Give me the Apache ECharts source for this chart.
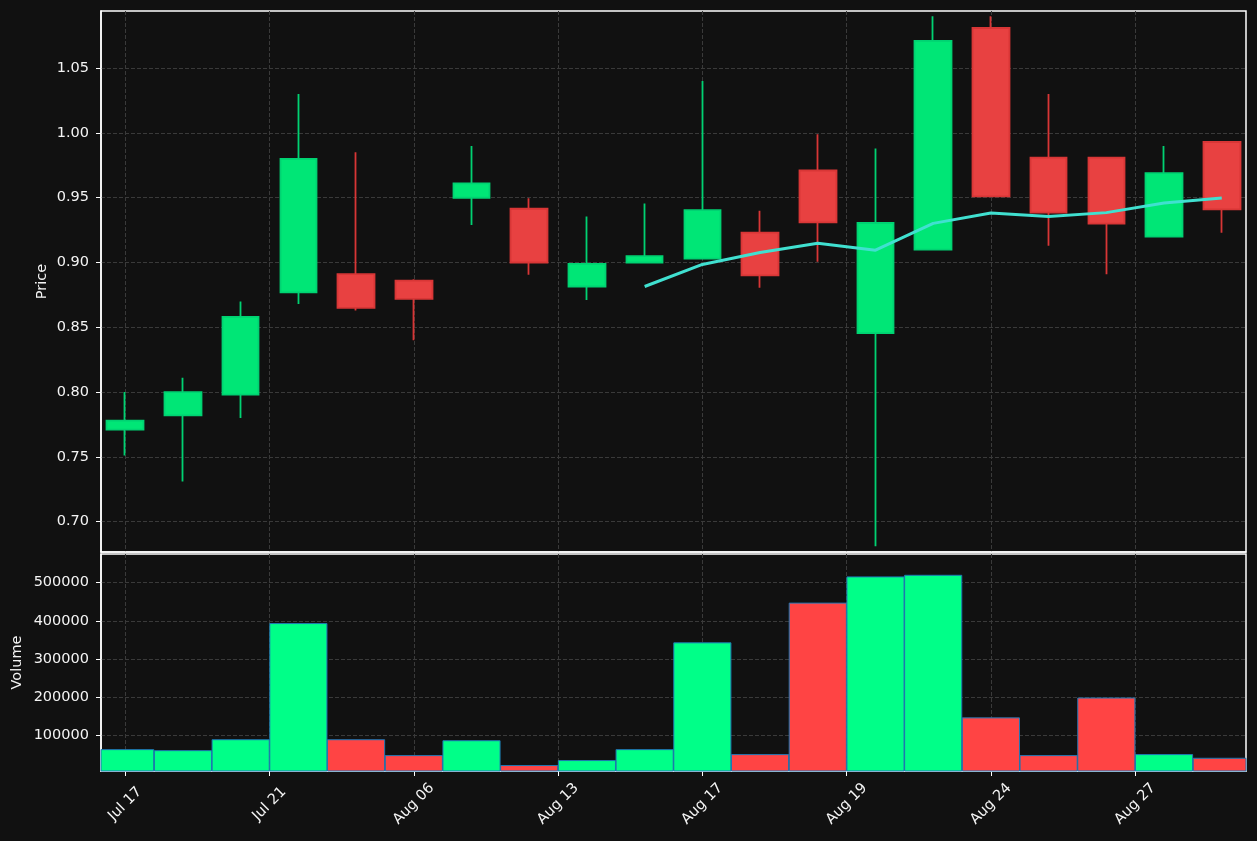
<!DOCTYPE html>
<html>
<head>
<meta charset="utf-8">
<script src="https://cdn.jsdelivr.net/npm/echarts@6/dist/echarts.min.js"></script>
<style>
html,body{margin:0;padding:0;background:#111111;}
#chart{width:1257px;height:841px;}
</style>
</head>
<body>
<div id="chart"></div>
<script>
// ---- data ----
const tickLabels = ['Jul 17', 'Jul 21', 'Aug 06', 'Aug 13', 'Aug 17', 'Aug 19', 'Aug 24', 'Aug 27'];
const tickPositions = [0, 2.5, 5, 7.5, 10, 12.5, 15, 17.5];
const opens  = [0.771, 0.782, 0.798, 0.877, 0.891, 0.886, 0.950, 0.9415, 0.8815, 0.900, 0.903, 0.923, 0.971, 0.8455, 0.910, 1.081, 0.981, 0.981, 0.920, 0.993];
const closes = [0.778, 0.800, 0.858, 0.980, 0.865, 0.872, 0.961, 0.900, 0.899, 0.905, 0.9405, 0.890, 0.931, 0.9305, 1.071, 0.951, 0.9385, 0.930, 0.969, 0.941];
const lows   = [0.751, 0.731, 0.780, 0.868, 0.863, 0.840, 0.929, 0.8905, 0.871, 0.900, 0.903, 0.8805, 0.9005, 0.681, 0.910, 0.951, 0.913, 0.891, 0.920, 0.923];
const highs  = [0.800, 0.811, 0.870, 1.030, 0.985, 0.887, 0.990, 0.9495, 0.9355, 0.9455, 1.040, 0.940, 0.999, 0.988, 1.090, 1.090, 1.030, 0.981, 0.990, 0.993];
const maValues = [null, null, null, null, null, null, null, null, null, 0.8815, 0.8985, 0.9077, 0.9149, 0.9095, 0.9302, 0.9382, 0.9356, 0.9385, 0.9459, 0.9497];
const volumes = [62900, 60200, 88800, 392700, 88800, 47300, 86200, 21300, 34300, 62900, 342300, 49900, 446200, 514800, 519000, 146000, 47300, 197900, 49900, 40300];
const priceTicks = [0.70, 0.75, 0.80, 0.85, 0.90, 0.95, 1.00, 1.05];
const volumeTicks = [100000, 200000, 300000, 400000, 500000];

// ---- build series data ----
const candleData = opens.map((o, i) => [i, o, closes[i], lows[i], highs[i]]);
const maData = maValues.map((v, i) => [i, v]);
const volData = volumes.map((v, i) => [i, v]);

const FONT = 'DejaVu Sans';
const txt = '#f4f4f4';
const FS = 14.5;
const gridLine = { show: true, lineStyle: { color: '#3a3a3a', type: [4, 2], width: 1 } };
const axisLine = { show: true, onZero: false, lineStyle: { color: '#ffffff', width: 1.5 } };

function renderVolume(params, api) {
  const x = api.value(0), v = api.value(1);
  const cs = params.coordSys;
  const left = api.coord([x - 0.495, v]);
  const right = api.coord([x + 0.495, v]);
  const bottom = cs.y + cs.height;
  const rect = echarts.graphic.clipRectByRect(
    { x: left[0], y: left[1], width: right[0] - left[0], height: bottom - left[1] },
    { x: cs.x, y: cs.y, width: cs.width, height: cs.height }
  );
  if (!rect) return null;
  const i = params.dataIndex;
  return {
    type: 'rect',
    shape: rect,
    style: { fill: closes[i] >= opens[i] ? '#00ff88' : '#ff4444', stroke: '#1f77b4', lineWidth: 1 }
  };
}

const chart = echarts.init(document.getElementById('chart'), null, { renderer: 'canvas' });
chart.setOption({
  backgroundColor: '#111111',
  animation: false,
  textStyle: { fontFamily: FONT },
  grid: [
    { left: 101, top: 11, width: 1145, height: 541, show: true, borderColor: '#ffffff', borderWidth: 1.5, containLabel: false },
    { left: 101, top: 554, width: 1145, height: 217, show: true, borderColor: '#ffffff', borderWidth: 1.5, containLabel: false }
  ],
  xAxis: [
    {
      type: 'value', gridIndex: 0, min: -0.42, max: 19.42,
      axisLine: axisLine,
      axisTick: { show: false, customValues: tickPositions },
      axisLabel: { show: false, customValues: tickPositions },
      splitLine: gridLine
    },
    {
      type: 'value', gridIndex: 1, min: -0.42, max: 19.42,
      axisLine: axisLine,
      axisTick: { show: true, length: 5, lineStyle: { color: '#ffffff', width: 1 }, customValues: tickPositions },
      axisLabel: {
        customValues: tickPositions,
        formatter: v => { const k = tickPositions.indexOf(v); return k >= 0 ? tickLabels[k] : ''; },
        rotate: 45, align: 'center', verticalAlign: 'middle', margin: 33,
        color: txt, fontSize: FS, fontFamily: FONT
      },
      splitLine: gridLine
    }
  ],
  yAxis: [
    {
      type: 'value', gridIndex: 0, min: 0.6766, max: 1.0941,
      name: 'Price', nameLocation: 'middle', nameGap: 51, nameMoveOverlap: false,
      nameTextStyle: { color: txt, fontSize: FS, fontFamily: FONT },
      axisLine: axisLine,
      axisTick: { show: true, length: 5, lineStyle: { color: '#ffffff', width: 1 }, customValues: priceTicks },
      axisLabel: { customValues: priceTicks, formatter: v => v.toFixed(2), color: txt, fontSize: FS, fontFamily: FONT, margin: 12 },
      splitLine: gridLine
    },
    {
      type: 'value', gridIndex: 1, min: 7000, max: 574700,
      name: 'Volume', nameLocation: 'middle', nameGap: 76, nameMoveOverlap: false,
      nameTextStyle: { color: txt, fontSize: FS, fontFamily: FONT },
      axisLine: axisLine,
      axisTick: { show: true, length: 5, lineStyle: { color: '#ffffff', width: 1 }, customValues: volumeTicks },
      axisLabel: { customValues: volumeTicks, formatter: v => String(v), color: txt, fontSize: FS, fontFamily: FONT, margin: 12 },
      splitLine: gridLine
    }
  ],
  series: [
    {
      type: 'candlestick', xAxisIndex: 0, yAxisIndex: 0,
      data: candleData,
      encode: { x: 0, y: [1, 2, 3, 4] },
      barWidth: 37,
      itemStyle: {
        color: '#00e676', color0: '#e84141',
        borderColor: '#00d272', borderColor0: '#d83636',
        borderWidth: 1.8
      },
      z: 2
    },
    {
      type: 'line', xAxisIndex: 0, yAxisIndex: 0,
      data: maData, showSymbol: false, symbol: 'none',
      lineStyle: { color: '#40e0d0', width: 3 },
      connectNulls: false, z: 5
    },
    {
      type: 'custom', xAxisIndex: 1, yAxisIndex: 1,
      data: volData,
      encode: { x: 0, y: 1 },
      renderItem: renderVolume,
      z: 2
    }
  ]
});
</script>
</body>
</html>
